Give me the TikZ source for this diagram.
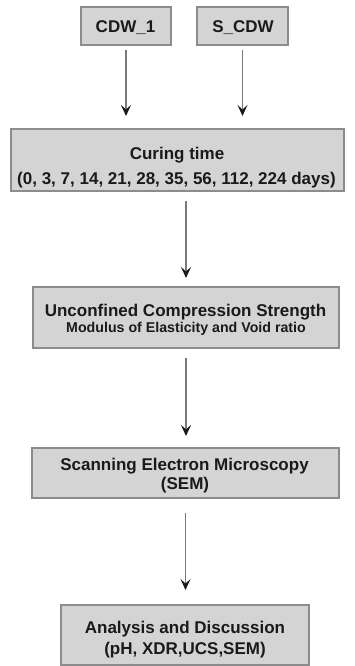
\documentclass[tikz,border=0pt]{standalone}
\usepackage{fontspec}
\setmainfont{Liberation Sans}
\usetikzlibrary{arrows.meta}
\definecolor{boxfill}{HTML}{D4D4D4}
\definecolor{boxline}{HTML}{8C8C8C}
\definecolor{arrline}{HTML}{7A7A7A}
\definecolor{txtcol}{HTML}{1A1A1A}
\begin{document}
\begin{tikzpicture}[x=1pt,y=-1pt,
  box/.style={draw=boxline,fill=boxfill,line width=1.3pt,inner sep=0pt,outer sep=0pt,rectangle},
  big/.style={inner sep=0pt,anchor=base,text=txtcol,font=\fontsize{17}{20}\selectfont\bfseries},
  small/.style={inner sep=0pt,anchor=base,text=txtcol,font=\fontsize{14.2}{17}\selectfont\bfseries},
  flow/.style={draw=arrline,line width=1.3pt,-{Stealth[length=11pt,width=10pt,inset=4.5pt,color=txtcol]}}]
\useasboundingbox (0,0) rectangle (354,666);
% boxes
\node[box,minimum width=90pt,minimum height=38pt] (cdw) at (126,26) {};
\node[box,minimum width=91pt,minimum height=38pt] (scdw) at (242.5,26) {};
\node[box,minimum width=333pt,minimum height=62pt] (cur) at (177.5,160) {};
\node[box,minimum width=306pt,minimum height=61pt] (ucs) at (186,317.5) {};
\node[box,minimum width=307pt,minimum height=50pt] (sem) at (185.5,473) {};
\node[box,minimum width=248pt,minimum height=60pt] (ana) at (185,635) {};
% texts
\node[big] (tcdw) at (125.5,33) {CDW\_1};
\node[big] (tscdw) at (243,33) {S\_CDW};
\node[big] (tcur1) at (177,159) {Curing time};
\node[big] (tcur2) at (176.5,184) {(0, 3, 7, 14, 21, 28, 35, 56, 112, 224 days)};
\node[big] (tucs1) at (185.5,316.7) {Unconfined Compression Strength};
\node[small] (tucs2) at (186,332.7) {Modulus of Elasticity and Void ratio};
\node[big] (tsem1) at (184.5,470) {Scanning Electron Microscopy};
\node[big] (tsem2) at (185,489) {(SEM)};
\node[big] (tana1) at (185,633) {Analysis and Discussion};
\node[big] (tana2) at (185,654) {(pH, XDR,UCS,SEM)};
% connectors
\draw[flow,shorten <=5pt,shorten >=13pt] (cdw.south) -- (cdw.south |- cur.north);
\draw[flow,shorten <=5pt,shorten >=13pt] (scdw.south) -- (scdw.south |- cur.north);
\draw[flow,shorten <=10pt,shorten >=9pt] (ucs.north |- cur.south) -- (ucs.north);
\draw[flow,shorten <=10pt,shorten >=12pt] (ucs.south) -- (ucs.south |- sem.north);
\draw[flow,shorten <=15pt,shorten >=15pt] (sem.south) -- (sem.south |- ana.north);
\end{tikzpicture}
\end{document}
